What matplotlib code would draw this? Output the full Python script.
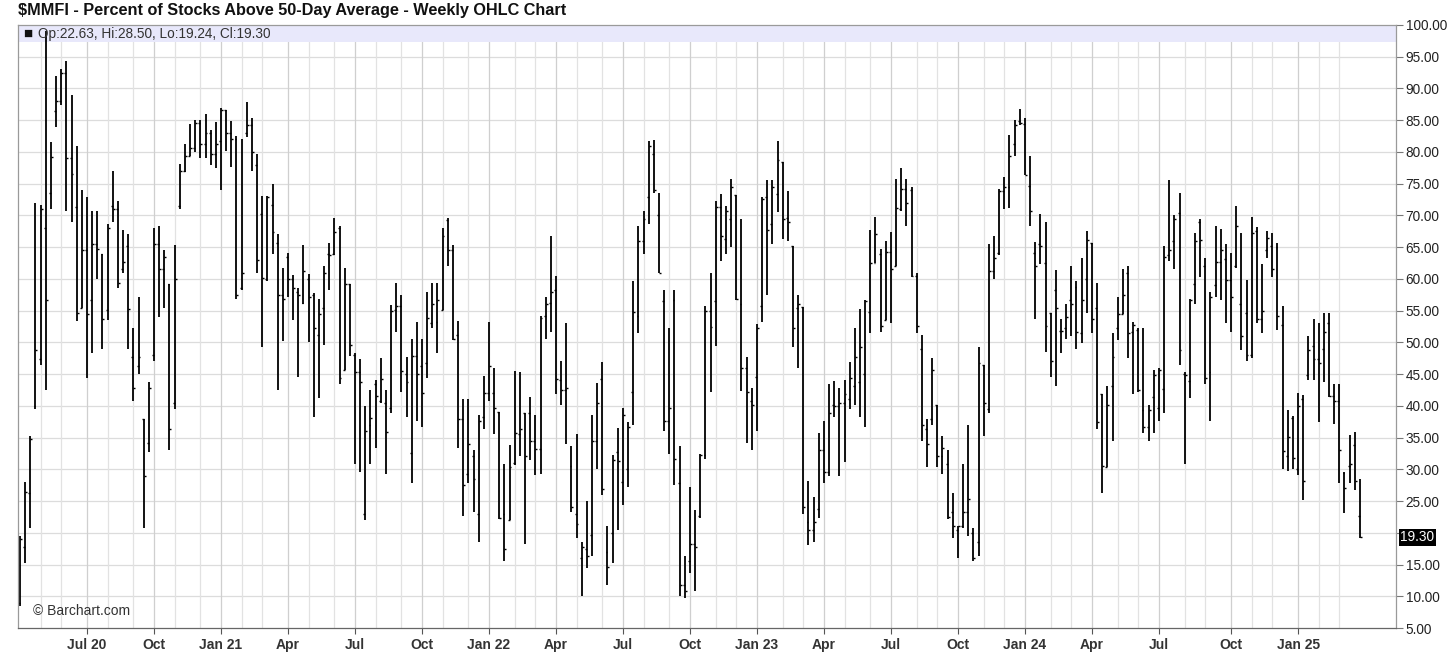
import matplotlib
matplotlib.use('Agg')
import matplotlib.pyplot as plt
import matplotlib.dates as mdates
import matplotlib.transforms as mtransforms
import pandas as pd

plt.rcParams['font.family'] = ['Liberation Sans', 'DejaVu Sans']

# weekly bars, first bar is the week of Mon 6 Apr 2020
first_week = '2020-04-06'

opens = [9.0, 17.7, 26.3, 40.0, 47.4, 68.0, 73.6, 86.5, 88.0, 92.5,
         79.0, 71.3, 55.4, 64.6, 56.6, 65.5, 64.0, 55.1, 71.5, 71.0,
         61.5, 65.2, 47.7, 46.2, 37.9, 34.2, 48.0, 65.5, 61.5, 59.2,
         40.4, 71.5, 77.0, 79.3, 80.7, 84.5, 81.3, 83.0, 79.6, 81.8,
         86.6, 83.0, 82.0, 58.5, 83.0, 84.2, 78.0, 70.3, 60.0, 71.7,
         65.7, 57.5, 63.4, 60.0, 58.0, 56.2, 60.0, 57.5, 51.2, 55.4,
         64.0, 64.0, 68.0, 45.6, 59.2, 48.0, 45.3, 23.0, 37.0, 43.4,
         40.7, 40.4, 39.6, 55.1, 55.7, 45.0, 32.6, 47.9, 46.2, 46.7,
         53.1, 53.2, 55.1, 69.2, 64.6, 51.2, 38.0, 29.3, 32.1, 22.9,
         38.3, 42.0, 42.0, 39.1, 23.0, 22.0, 31.0, 35.6, 38.8, 38.8,
         34.5, 33.2, 54.2, 56.2, 58.3, 44.0, 42.5, 30.6, 22.9, 16.0,
         17.5, 19.7, 34.5, 44.2, 17.0, 19.9, 32.8, 28.0, 30.0, 42.2,
         54.2, 66.0, 72.9, 79.6, 70.0, 56.5, 37.6, 56.6, 27.8, 11.8,
         15.5, 18.3, 22.6, 32.2, 54.9, 56.5, 71.3, 66.3, 69.5, 73.2,
         56.0, 45.9, 40.7, 44.5, 55.7, 72.9, 68.6, 73.3, 78.4, 69.6,
         65.2, 55.4, 55.5, 21.7, 20.4, 23.8, 33.0, 29.6, 40.2, 40.0,
         40.4, 41.0, 43.1, 43.7, 45.0, 54.8, 62.5, 64.0, 53.6, 64.3,
         62.1, 71.0, 74.1, 74.0, 60.5, 49.0, 36.4, 37.9, 40.1, 32.1,
         30.9, 23.2, 20.5, 21.0, 23.2, 20.0, 18.6, 46.5, 39.5, 61.2,
         64.1, 73.8, 74.4, 81.2, 84.9, 84.4, 74.7, 64.1, 65.5, 62.5,
         54.7, 58.3, 51.8, 52.3, 56.7, 58.8, 51.4, 60.0, 65.7, 55.4,
         41.9, 30.4, 43.1, 52.2, 54.5, 60.9, 51.7, 52.0, 39.3, 36.7,
         41.4, 39.6, 42.6, 63.7, 66.0, 70.4, 45.0, 43.9, 59.2, 68.9,
         62.0, 45.3, 59.1, 62.6, 63.2, 59.8, 62.0, 56.0, 54.7, 48.0,
         67.5, 53.7, 64.6, 65.2, 65.0, 52.8, 32.1, 38.1, 30.1, 41.1,
         44.9, 49.4, 47.4, 49.0, 53.0, 41.5, 40.7, 29.4, 30.5, 33.8,
         22.63]

highs = [19.5, 28.0, 35.2, 72.0, 71.7, 99.0, 81.5, 92.0, 93.0, 94.4,
         89.0, 81.0, 74.0, 72.9, 70.7, 70.7, 64.0, 68.6, 77.0, 72.3,
         67.7, 67.0, 52.3, 57.2, 37.9, 43.7, 68.0, 68.3, 64.6, 59.2,
         65.3, 78.1, 81.3, 84.4, 85.0, 85.0, 86.0, 83.5, 84.7, 87.0,
         86.6, 84.8, 82.5, 82.0, 87.9, 85.4, 79.6, 73.1, 73.1, 75.0,
         67.0, 61.7, 64.1, 60.6, 58.6, 65.3, 60.8, 57.7, 56.8, 62.1,
         65.7, 69.6, 68.3, 61.7, 59.2, 48.3, 47.4, 40.0, 42.5, 44.0,
         47.5, 42.5, 55.9, 59.4, 57.5, 47.7, 50.5, 53.2, 50.5, 58.0,
         59.4, 59.4, 68.0, 69.6, 65.3, 53.4, 41.0, 41.0, 33.0, 38.5,
         44.7, 53.2, 46.0, 39.1, 30.9, 33.8, 45.5, 45.3, 38.8, 41.4,
         38.5, 54.2, 57.1, 66.8, 60.4, 47.1, 53.1, 33.6, 35.6, 18.5,
         25.0, 38.5, 43.6, 46.9, 21.0, 32.2, 36.5, 39.6, 37.5, 59.7,
         68.3, 70.7, 81.7, 81.9, 73.5, 58.2, 52.3, 58.2, 33.6, 16.4,
         27.2, 23.6, 32.4, 55.7, 60.9, 72.3, 73.3, 71.5, 75.8, 73.2,
         69.5, 47.7, 42.8, 52.9, 72.9, 75.6, 75.6, 81.8, 78.4, 73.8,
         65.2, 57.5, 55.5, 28.1, 25.6, 35.8, 37.6, 43.4, 43.9, 42.8,
         44.0, 46.9, 52.3, 55.2, 56.7, 67.7, 69.8, 64.7, 66.0, 67.4,
         75.8, 77.5, 75.8, 74.4, 60.9, 51.1, 37.9, 47.5, 40.1, 35.2,
         33.0, 26.3, 21.0, 30.9, 37.0, 20.7, 49.3, 46.5, 65.5, 66.7,
         74.1, 76.0, 82.7, 85.1, 86.7, 85.4, 79.3, 65.8, 70.2, 68.9,
         54.7, 61.4, 53.7, 56.0, 62.0, 59.6, 63.3, 67.5, 65.7, 59.4,
         41.9, 43.1, 51.4, 57.1, 61.5, 62.0, 53.2, 52.3, 52.3, 40.1,
         45.6, 45.9, 65.2, 75.6, 70.1, 73.5, 45.3, 56.9, 67.2, 69.4,
         63.3, 57.9, 68.3, 67.9, 65.5, 64.1, 71.5, 67.3, 59.8, 69.8,
         68.2, 62.3, 67.6, 67.3, 65.6, 55.7, 39.4, 38.4, 42.0, 41.7,
         51.0, 53.7, 53.0, 54.7, 54.7, 43.5, 43.5, 29.6, 35.4, 35.9,
         28.50]

lows = [8.5, 15.2, 20.7, 39.5, 46.5, 42.5, 71.0, 84.0, 87.4, 70.7,
        68.9, 53.4, 55.4, 44.4, 48.3, 60.0, 49.0, 53.6, 68.9, 58.5,
        61.0, 49.0, 40.7, 45.0, 20.7, 32.7, 47.1, 54.0, 55.4, 33.0,
        39.5, 71.0, 76.9, 79.3, 80.0, 79.0, 79.0, 78.0, 77.5, 74.0,
        80.2, 77.6, 56.9, 58.3, 82.4, 77.0, 60.9, 49.3, 59.6, 64.0,
        42.5, 50.2, 57.2, 53.6, 44.5, 56.0, 50.0, 38.2, 41.3, 49.6,
        58.2, 63.7, 43.4, 45.6, 47.9, 30.9, 29.6, 22.0, 30.9, 33.4,
        40.4, 29.3, 38.8, 51.7, 42.2, 38.2, 27.9, 37.6, 36.7, 44.4,
        52.3, 48.3, 55.1, 62.0, 50.4, 33.4, 22.6, 27.8, 23.2, 18.6,
        36.4, 40.7, 35.6, 22.2, 15.5, 22.0, 30.7, 32.1, 18.3, 31.5,
        29.1, 29.3, 50.5, 51.7, 41.8, 40.1, 34.0, 23.2, 19.2, 10.1,
        14.4, 16.3, 30.1, 26.0, 11.8, 15.2, 20.4, 24.4, 27.2, 37.0,
        51.4, 64.0, 68.6, 73.5, 60.9, 36.1, 32.4, 27.5, 10.0, 9.7,
        13.7, 10.9, 22.4, 31.6, 42.2, 49.4, 62.8, 63.9, 65.1, 56.6,
        42.4, 34.2, 33.0, 36.1, 53.2, 57.5, 65.5, 70.6, 66.3, 66.0,
        49.3, 45.9, 22.9, 18.0, 18.6, 22.3, 27.8, 29.0, 38.2, 29.0,
        31.2, 39.5, 40.1, 38.2, 36.7, 51.4, 62.5, 51.7, 53.6, 53.0,
        62.1, 70.7, 68.3, 60.3, 51.4, 34.5, 30.3, 37.0, 30.3, 29.3,
        22.2, 19.2, 16.1, 20.7, 19.5, 15.5, 16.4, 35.2, 38.8, 60.0,
        63.7, 71.0, 71.2, 79.4, 84.2, 76.3, 68.4, 53.7, 62.3, 48.5,
        44.5, 43.1, 48.3, 50.6, 51.0, 49.0, 49.9, 54.7, 51.4, 36.3,
        26.3, 30.3, 34.5, 50.4, 54.5, 47.5, 41.8, 42.2, 35.8, 34.5,
        35.8, 37.6, 38.8, 62.8, 61.5, 46.5, 30.9, 41.3, 56.0, 60.3,
        43.4, 37.6, 57.1, 56.7, 53.0, 51.7, 61.7, 48.8, 47.0, 47.5,
        53.0, 51.4, 63.3, 60.3, 52.0, 30.1, 29.8, 30.1, 29.1, 25.1,
        44.1, 44.1, 37.4, 43.7, 41.4, 37.1, 27.8, 23.1, 27.8, 26.8,
        19.24]

closes = [19.0, 26.5, 34.8, 48.8, 71.0, 56.7, 79.2, 88.0, 92.5, 79.0,
          76.6, 54.7, 64.6, 54.5, 65.5, 64.7, 53.7, 68.0, 71.0, 59.4,
          62.6, 55.3, 42.8, 47.7, 29.0, 42.8, 65.5, 61.5, 63.4, 36.4,
          60.0, 77.0, 79.3, 80.7, 84.5, 81.3, 83.0, 79.6, 81.2, 86.6,
          83.0, 82.0, 57.5, 60.9, 84.2, 80.0, 63.0, 60.2, 72.9, 67.4,
          57.5, 56.9, 60.0, 58.5, 57.5, 61.2, 57.1, 52.3, 54.5, 60.9,
          63.7, 67.4, 44.4, 59.2, 49.6, 45.3, 43.7, 36.1, 38.1, 41.6,
          44.2, 35.9, 54.9, 55.7, 45.5, 43.7, 47.9, 45.0, 42.0, 53.9,
          56.0, 56.7, 66.8, 64.6, 50.5, 37.9, 27.5, 34.0, 28.4, 37.6,
          42.0, 46.2, 39.6, 22.3, 17.4, 30.3, 35.8, 36.4, 32.1, 34.5,
          33.2, 53.9, 56.0, 58.0, 44.2, 42.5, 42.8, 24.1, 21.4, 17.7,
          16.4, 34.5, 40.4, 26.9, 14.6, 31.5, 31.3, 38.5, 36.7, 54.8,
          66.0, 69.4, 81.0, 74.0, 61.0, 37.6, 39.6, 31.6, 11.8, 10.9,
          18.3, 17.8, 32.2, 54.9, 52.5, 71.3, 66.8, 70.7, 74.4, 56.8,
          45.9, 42.2, 40.1, 52.3, 72.6, 67.7, 74.4, 78.8, 69.5, 69.0,
          52.3, 56.0, 24.1, 20.4, 21.7, 33.0, 29.6, 38.8, 40.0, 40.4,
          41.9, 44.4, 47.7, 49.3, 56.5, 62.5, 67.1, 52.6, 64.3, 61.5,
          71.2, 74.1, 72.0, 60.5, 52.6, 37.0, 34.0, 45.6, 32.1, 33.3,
          22.5, 21.0, 21.0, 23.2, 25.3, 16.0, 46.8, 40.4, 61.2, 63.3,
          73.8, 74.4, 79.4, 84.2, 84.5, 76.4, 70.7, 62.0, 65.2, 52.6,
          47.1, 55.4, 51.8, 54.0, 56.0, 51.7, 56.6, 66.1, 53.7, 37.5,
          30.6, 40.1, 47.7, 54.5, 57.5, 51.4, 52.8, 42.5, 36.7, 39.3,
          44.8, 45.6, 63.5, 64.6, 69.5, 48.8, 44.8, 56.6, 66.0, 66.1,
          44.4, 57.2, 62.6, 64.6, 59.8, 57.2, 68.3, 51.0, 48.0, 67.3,
          53.7, 55.0, 66.5, 61.5, 54.2, 32.9, 35.1, 31.8, 40.0, 28.1,
          48.8, 47.4, 46.7, 51.7, 41.5, 40.7, 33.1, 27.1, 30.8, 28.1,
          19.30]

quarter_labels = ['Jul 20', 'Oct', 'Jan 21', 'Apr', 'Jul', 'Oct', 'Jan 22', 'Apr',
                  'Jul', 'Oct', 'Jan 23', 'Apr', 'Jul', 'Oct', 'Jan 24', 'Apr',
                  'Jul', 'Oct', 'Jan 25']
y_ticks = list(range(5, 101, 5))

dates = pd.date_range(first_week, periods=len(closes), freq='7D')
x = mdates.date2num(dates.to_pydatetime())

# first bar of every month -> monthly grid, quarters get labels
month_start = [i for i in range(1, len(dates)) if dates[i].month != dates[i - 1].month]
quarter_start = [i for i in month_start if dates[i].month in (1, 4, 7, 10)]

fig = plt.figure(figsize=(14.56, 6.61), dpi=100)
ax = fig.add_axes([18 / 1456, 1 - 628 / 661, 1378 / 1456, 603 / 661])

ax.set_xlim(x[0] - 2.7, x[-1] + 49)
ax.set_ylim(5, 100)

# grid
for v in y_ticks[1:-1]:
    ax.axhline(v, color='#dcdcdc', lw=0.9, zorder=0)
for i in month_start:
    c = '#cfcfcf' if i in quarter_start else '#e2e2e2'
    ax.axvline(x[i], color=c, lw=0.9, zorder=0)

# header band
ax.axhspan(97.3, 100, color='#e8e8fb', zorder=1, lw=0)
trans = mtransforms.blended_transform_factory(ax.transAxes, ax.transData)
ax.text(0.004, 98.6, '\u25a0', transform=trans, fontsize=11, color='#111111',
        va='center', ha='left', zorder=3)
ax.text(0.0145, 98.6,
        f'Op:{opens[-1]:.2f}, Hi:{highs[-1]:.2f}, Lo:{lows[-1]:.2f}, Cl:{closes[-1]:.2f}',
        transform=trans, fontsize=9.8, color='#333333', va='center', ha='left', zorder=3)

# OHLC bars
tick = 2.6
ax.vlines(x, lows, highs, color='black', lw=1.3, zorder=2)
ax.hlines(opens, x - tick, x, color='black', lw=1.0, zorder=2)
ax.hlines(closes, x, x + tick, color='black', lw=1.0, zorder=2)

# axes styling
ax.yaxis.tick_right()
ax.set_yticks(y_ticks)
ax.set_yticklabels(['' if v == 20 else f'{v:.2f}' for v in y_ticks])
ax.tick_params(axis='y', direction='out', length=5, width=0.8, color='#777777',
               labelsize=9.8, labelcolor='#222222', pad=2)

ax.set_xticks([x[i] for i in quarter_start])
ax.set_xticklabels(quarter_labels, fontweight='bold')
ax.tick_params(axis='x', direction='out', length=4, width=0.8, color='#555555',
               labelsize=10, labelcolor='#333333', pad=3)

for s in ['left', 'top', 'right']:
    ax.spines[s].set_color('#9a9a9a')
    ax.spines[s].set_linewidth(0.9)
ax.spines['bottom'].set_color('#666666')
ax.spines['bottom'].set_linewidth(0.9)

# last price marker
ax.text(1.003, closes[-1], f'{closes[-1]:.2f}', transform=trans, color='white',
        fontsize=9.8, va='center', ha='left',
        bbox=dict(facecolor='black', edgecolor='none', pad=1.2))

ax.text(0.011, 0.028, '\u00a9 Barchart.com', transform=ax.transAxes, fontsize=10,
        color='#333333', va='center', ha='left')

fig.text(18 / 1456, 1 - 11 / 661,
         '\\$MMFI - Percent of Stocks Above 50-Day Average - Weekly OHLC Chart',
         fontsize=11.7, fontweight='bold', color='#111111', va='center', ha='left')

fig.savefig('out.png', dpi=100)
